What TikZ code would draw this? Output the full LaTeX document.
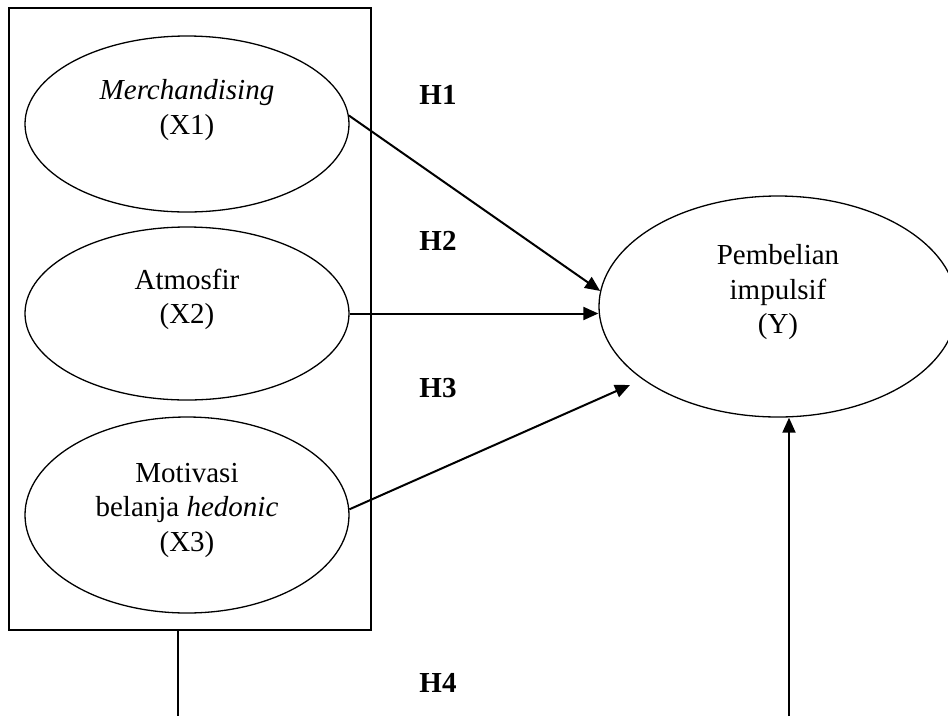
\documentclass[tikz,border=0pt]{standalone}
\usepackage{fontspec}
\setmainfont{Liberation Serif}
\usetikzlibrary{shapes,arrows.meta,calc}
\tikzstyle{var}=[draw, ellipse, line width=1.3pt, minimum width=324pt, inner sep=0pt]
\tikzstyle{lbl}=[align=center, font=\fontsize{29}{34.5}\selectfont]
\tikzstyle{hyp}=[font=\fontsize{29}{34.5}\selectfont\bfseries]
\tikzstyle{path>}=[line width=2pt, -{Triangle[length=15pt,width=13pt]}]

\begin{document}
\begin{tikzpicture}[x=1pt, y=-1pt]
\useasboundingbox (0,0) rectangle (948,716);
% variabel bebas
\coordinate (boxnw) at (9,8);
\coordinate (boxse) at (371,630);
\draw[line width=1.5pt] (boxnw) rectangle (boxse);
\foreach \n/\y/\h/\s/\txt in {1/124/176pt/14/{\textit{Merchandising}\\(X1)}, 2/313.5/173pt/14/{Atmosfir\\(X2)}, 3/515/196pt/5/{Motivasi\\belanja \textit{hedonic}\\(X3)}} {
 \node[var, minimum height=\h] (x\n) at (187,\y) {};
 \node[lbl] (tx\n) at ($(x\n)+(0,-\s)$) {\txt};
}
% variabel terikat
\node[var, minimum width=358pt, minimum height=221pt] (y) at (778,306.5) {};
\node[lbl] (ty) at (778,292.5) {Pembelian\\impulsif\\(Y)};
% hipotesis
\coordinate (y3) at (630,385);
\draw[path>] (x1.3.5) -- (y.175);
\draw[path>] (x2.east) -- (x2.east -| y.west);
\draw[path>] (x3.2.5) -- (y3);
\coordinate (h4l) at (178,716);
\coordinate (h4r) at (789,716);
\draw[line width=1.6pt] (h4l |- boxse) -- (h4l);
\draw[path>] (h4r) -- (h4r |- y.south);
\foreach \n/\y in {1/94.5, 2/241, 3/388, 4/683}
 \node[hyp] (h\n) at (438,\y) {H\n};
\end{tikzpicture}
\end{document}
